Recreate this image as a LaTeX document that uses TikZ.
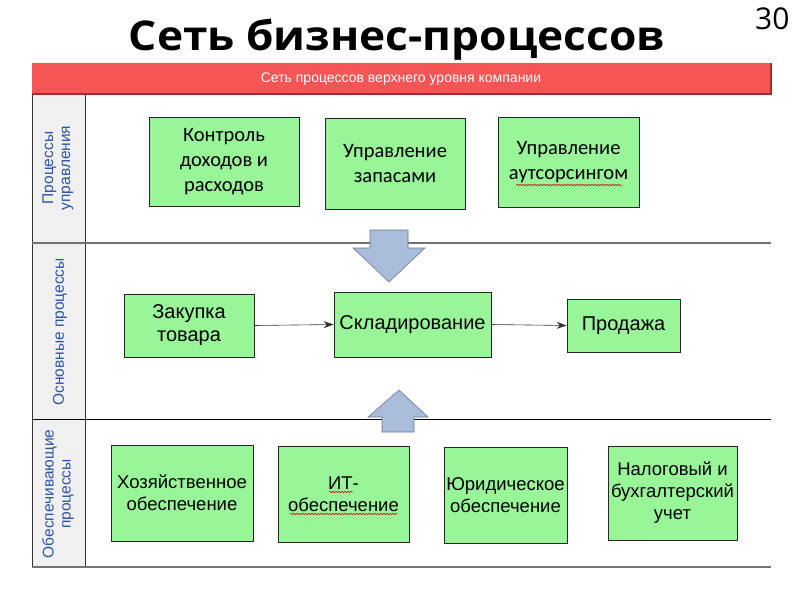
\documentclass[tikz,border=0pt]{standalone}
\usepackage{fontspec}
\setmainfont{Liberation Sans}
\newfontfamily\titlefont{Open Sans}
\newfontfamily\calfont{Carlito}
\usetikzlibrary{arrows.meta,decorations.pathmorphing}
\definecolor{boxgreen}{HTML}{98F598}
\definecolor{barred}{HTML}{F65555}
\definecolor{barredd}{HTML}{A03030}
\definecolor{lanegray}{HTML}{F0F0F0}
\definecolor{laneblue}{HTML}{2E54A6}
\definecolor{arrowfill}{HTML}{A9BCDA}
\definecolor{arrowline}{HTML}{6A7A96}
\tikzset{
  box/.style={draw=black!85, line width=0.8pt, fill=boxgreen, align=center, inner sep=0pt},
  topbox/.style={box, font=\calfont\fontsize{20.5}{25}\selectfont},
  midbox/.style={box, font=\fontsize{20}{23}\selectfont},
  botbox/.style={box, font=\fontsize{18.5}{22}\selectfont},
  lanelabel/.style={rotate=90, text=laneblue, align=center, font=\fontsize{15.5}{17}\selectfont},
  flow/.style={-{Stealth[length=10pt,width=7pt]}, line width=0.6pt, black!80},
  blockarrow/.style={fill=arrowfill, draw=arrowline, line width=0.6pt, line join=miter},
  squiggle/.style={red!80!black, line width=0.5pt, decorate, decoration={snake, amplitude=0.8pt, segment length=3pt}}
}
\begin{document}
\begin{tikzpicture}[x=1pt,y=-1pt]
\useasboundingbox (0,0) rectangle (800,600);
\fill[white] (0,0) rectangle (800,600);
% title
\node[font=\titlefont\bfseries\fontsize{41}{44}\selectfont, xscale=1.08, transform shape] (title) at (397,40) {Сеть бизнес-процессов};
\node[font=\titlefont\fontsize{30}{32}\selectfont, anchor=east] (pagenum) at (793,19) {30};
% header bar
\fill[barred] (32,63) rectangle (771,94);
\draw[barredd, line width=1.5pt] (32,94) -- (771,94) -- (771,63);
\node[text=white, font=\fontsize{14}{16}\selectfont, xscale=1.0] (hdr) at (401,79) {Сеть процессов верхнего уровня компании};
% lanes
\fill[lanegray] (32,95) rectangle (85,567);
\draw[black!80, line width=0.6pt] (32,95) -- (32,567);
\draw[black!80, line width=0.6pt] (85,95) -- (85,567);
\draw[black!55, line width=1.8pt] (32,243) -- (771,243);
\draw[black, line width=0.8pt] (32,419) -- (771,419);
\draw[black!55, line width=2.2pt] (32,567) -- (771,567);
\node[lanelabel] (l1) at (58,168) {Процессы\\управления};
\node[lanelabel] (l2) at (60,332) {Основные процессы};
\node[lanelabel] (l3) at (58,494) {Обеспечивающие\\процессы};
% block arrows
\draw[blockarrow] (370,230) -- (408,230) -- (408,248) -- (425,248) -- (389,282) -- (353,248) -- (370,248) -- cycle;
\draw[blockarrow] (382,432) -- (414,432) -- (414,417) -- (428,417) -- (399,390) -- (368,417) -- (382,417) -- cycle;
% top row
\node[topbox, minimum width=150pt, minimum height=89pt] (k1) at (224,161.5) {Контроль\\доходов и\\расходов};
\node[topbox, minimum width=140pt, minimum height=91pt] (k2) at (395,163.5) {Управление\\запасами};
\node[topbox, minimum width=141pt, minimum height=90pt] (k3) at (568.5,162) {Управление\\аутсорсингом};
% middle row
\node[midbox, minimum width=130pt, minimum height=63pt] (m1) at (189,325.5) {Закупка\\товара};
\node[midbox, minimum width=157pt, minimum height=65pt] (m2) at (412.5,324.5) {Складирование};
\node[midbox, minimum width=113pt, minimum height=53pt] (m3) at (623.5,325.5) {Продажа};
\draw[flow] (m1.east) -- (m2.west);
\draw[flow] (m2.east) -- (m3.west);
% bottom row
\node[botbox, minimum width=142pt, minimum height=96pt] (b1) at (182,493) {Хозяйственное\\обеспечение};
\node[botbox, minimum width=131pt, minimum height=96pt] (b2) at (343.5,494) {ИТ-\\обеспечение};
\node[botbox, minimum width=123pt, minimum height=96pt] (b3) at (505.5,495) {Юридическое\\обеспечение};
\node[botbox, minimum width=129pt, minimum height=94pt] (b4) at (672.5,493) {Налоговый и\\бухгалтерский\\учет};
% spell-check squiggles
\draw[squiggle] (516,185) -- (622,185);
\draw[squiggle] (329,492) -- (353,492);
\draw[squiggle] (290,514) -- (397,514);
\end{tikzpicture}
\end{document}
